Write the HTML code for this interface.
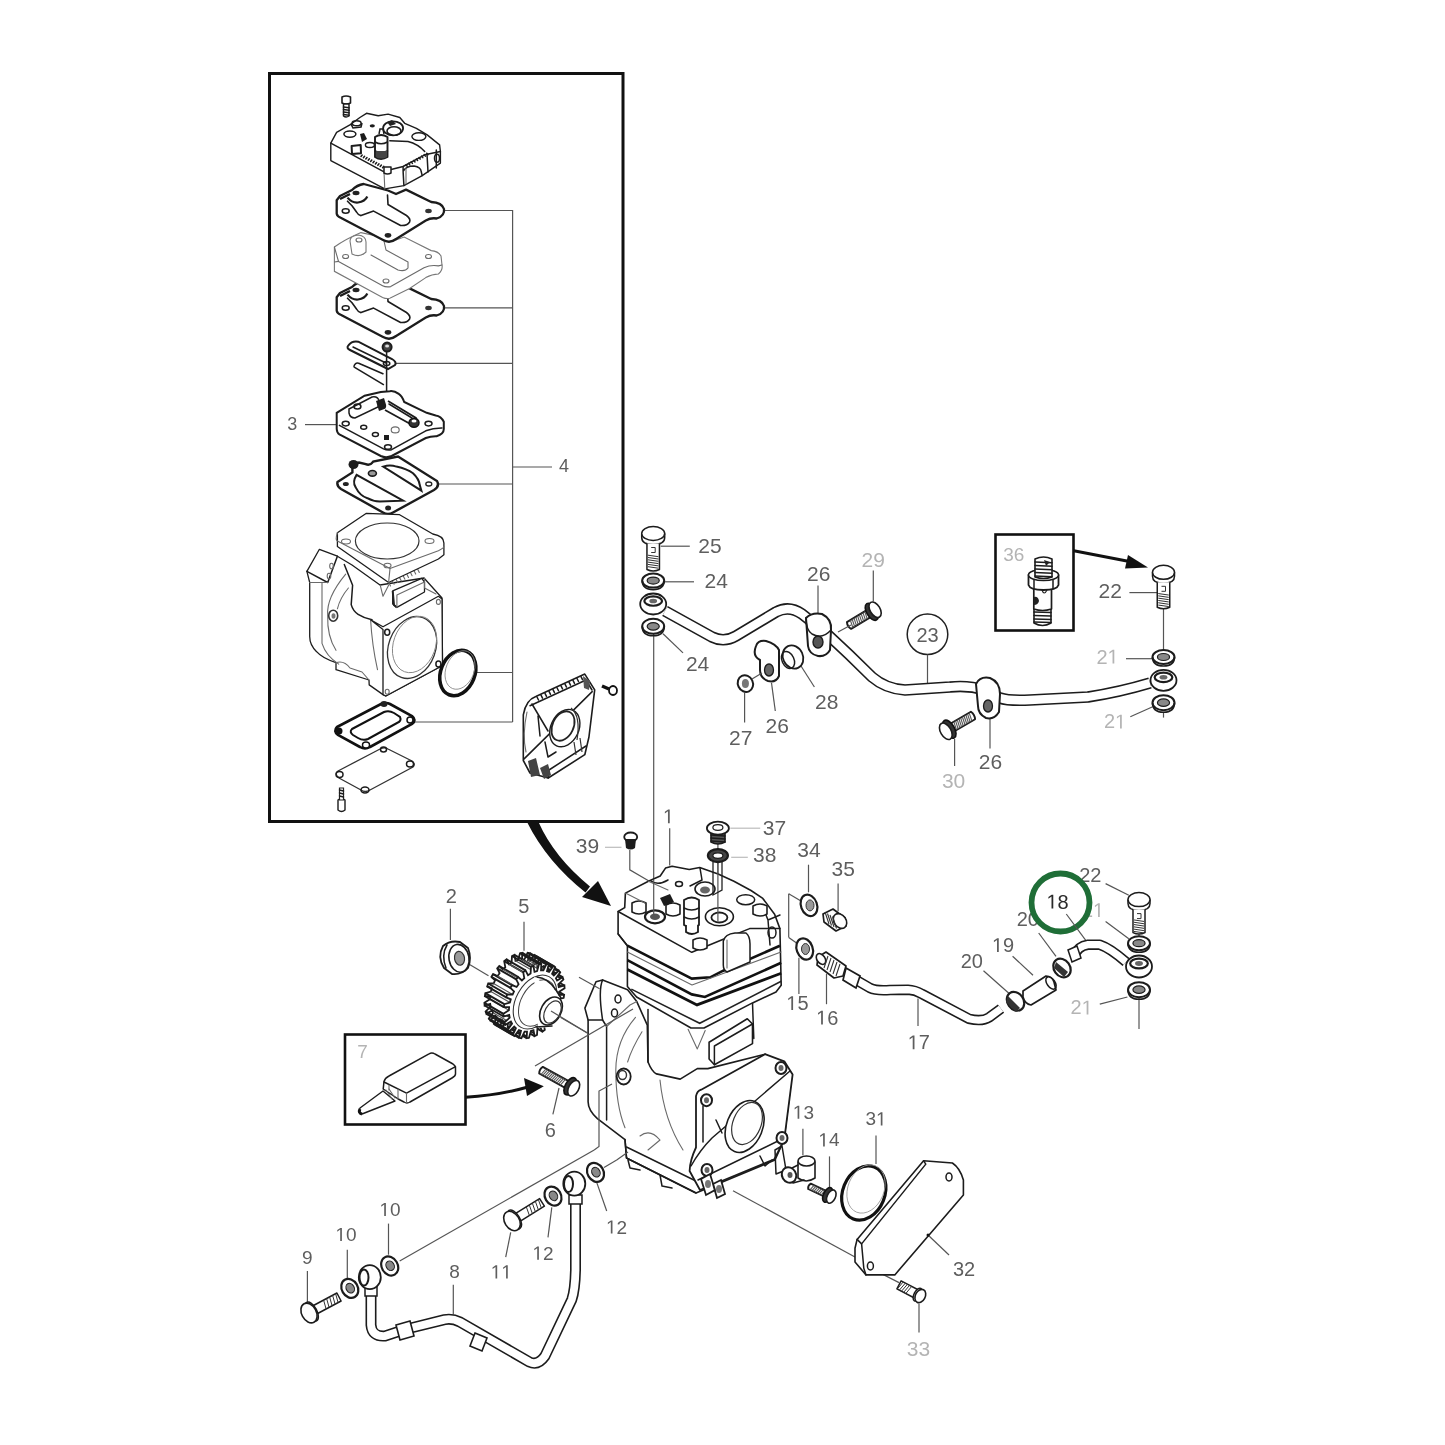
<!DOCTYPE html><html><head><meta charset="utf-8">
<style>
html,body{margin:0;padding:0;background:#fff;}
body{width:1445px;height:1445px;overflow:hidden;position:relative;}
svg{position:absolute;left:0;top:0;will-change:transform;}
.l{fill:none;stroke:#1c1c1c;stroke-width:1.5;stroke-linejoin:round;stroke-linecap:round;}
.t{fill:none;stroke:#1c1c1c;stroke-width:2.4;stroke-linejoin:round;stroke-linecap:round;}
.g{fill:none;stroke:#6a6a6a;stroke-width:1.1;stroke-linejoin:round;stroke-linecap:round;}
.ld{fill:none;stroke:#555;stroke-width:1.2;}
.lg{fill:none;stroke:#bbb;stroke-width:1.2;}
.w{fill:#fff;stroke:#1c1c1c;stroke-width:1.5;stroke-linejoin:round;}
.wt{fill:#fff;stroke:#1c1c1c;stroke-width:2.4;stroke-linejoin:round;}
.k{fill:#1c1c1c;stroke:none;}
text{font-family:"Liberation Sans",sans-serif;fill:#5e5e5e;}
.gt{fill:#b4b4b4;}
</style>
</head><body><svg width="1445" height="1445" viewBox="0 0 1445 1445"><rect x="269.5" y="73.5" width="353.5" height="748" fill="none" stroke="#111" stroke-width="3"/>
<rect x="995.5" y="534.5" width="78" height="96" fill="none" stroke="#111" stroke-width="2.6"/>
<rect x="345" y="1034.5" width="120.5" height="90" fill="none" stroke="#111" stroke-width="2.6"/>
<path class="ld" d="M512.6,210 L512.6,722"/>
<path class="ld" d="M443,210.5 L512.6,210.5"/>
<path class="ld" d="M443,307.8 L512.6,307.8"/>
<path class="ld" d="M395,363.4 L512.6,363.4"/>
<path class="ld" d="M439,484 L512.6,484"/>
<path class="ld" d="M475,672.5 L512.6,672.5"/>
<path class="ld" d="M414.6,722 L512.6,722"/>
<path class="ld" d="M512.6,467 L552,467"/>
<path class="ld" d="M305,424.6 L336.4,424.6"/>
<text x="292.2" y="430" font-size="18" text-anchor="middle">3</text>
<text x="564" y="472" font-size="18" text-anchor="middle">4</text>
<text x="710" y="552.8" font-size="21" text-anchor="middle">25</text>
<text x="716.2" y="588" font-size="21" text-anchor="middle">24</text>
<text x="697.6" y="671" font-size="21" text-anchor="middle">24</text>
<text x="818.8" y="580.6" font-size="21" text-anchor="middle">26</text>
<text x="873.3" y="566.5" font-size="21" text-anchor="middle" class="gt">29</text>
<text x="1013.7" y="560.7" font-size="19" text-anchor="middle" class="gt">36</text>
<text x="1110.3" y="598" font-size="21" text-anchor="middle">22</text>
<text x="1096.38" y="663.6" font-size="20" class="gt">2</text>
<path d="M515,0 L515,1237 L197,1010 L197,1180 L530,1409 L696,1409 L696,0 Z" fill="#b4b4b4" transform="translate(1107.50 663.6) scale(0.00977 -0.00977)"/>
<text x="1103.88" y="728.4" font-size="20" class="gt">2</text>
<path d="M515,0 L515,1237 L197,1010 L197,1180 L530,1409 L696,1409 L696,0 Z" fill="#b4b4b4" transform="translate(1115.00 728.4) scale(0.00977 -0.00977)"/>
<text x="740.8" y="745" font-size="21" text-anchor="middle">27</text>
<text x="777.3" y="732.6" font-size="21" text-anchor="middle">26</text>
<text x="826.8" y="708.5" font-size="21" text-anchor="middle">28</text>
<text x="953.6" y="788.3" font-size="21" text-anchor="middle" class="gt">30</text>
<text x="990.4" y="769" font-size="21" text-anchor="middle">26</text>
<path d="M515,0 L515,1237 L197,1010 L197,1180 L530,1409 L696,1409 L696,0 Z" fill="#5e5e5e" transform="translate(662.94 823.3) scale(0.00977 -0.00977)"/>
<text x="774.4" y="834.9" font-size="21" text-anchor="middle">37</text>
<text x="764.8" y="862.3" font-size="21" text-anchor="middle">38</text>
<text x="587.4" y="853.4" font-size="21" text-anchor="middle">39</text>
<text x="809" y="857.4" font-size="21" text-anchor="middle">34</text>
<text x="843.2" y="876.3" font-size="21" text-anchor="middle">35</text>
<text x="451.2" y="902.7" font-size="20" text-anchor="middle">2</text>
<text x="523.9" y="912.6" font-size="20" text-anchor="middle">5</text>
<text x="1090.3" y="882.2" font-size="20" text-anchor="middle">22</text>
<text x="1027.8" y="925.8" font-size="20" text-anchor="middle">20</text>
<text x="1081.88" y="917" font-size="20" class="gt">2</text>
<path d="M515,0 L515,1237 L197,1010 L197,1180 L530,1409 L696,1409 L696,0 Z" fill="#b4b4b4" transform="translate(1093.00 917) scale(0.00977 -0.00977)"/>
<path d="M515,0 L515,1237 L197,1010 L197,1180 L530,1409 L696,1409 L696,0 Z" fill="#5e5e5e" transform="translate(991.98 952) scale(0.00977 -0.00977)"/>
<text x="1003.10" y="952" font-size="20">9</text>
<text x="971.8" y="968" font-size="20" text-anchor="middle">20</text>
<path d="M515,0 L515,1237 L197,1010 L197,1180 L530,1409 L696,1409 L696,0 Z" fill="#5e5e5e" transform="translate(786.28 1010) scale(0.00977 -0.00977)"/>
<text x="797.40" y="1010" font-size="20">5</text>
<path d="M515,0 L515,1237 L197,1010 L197,1180 L530,1409 L696,1409 L696,0 Z" fill="#5e5e5e" transform="translate(816.08 1024.6) scale(0.00977 -0.00977)"/>
<text x="827.20" y="1024.6" font-size="20">6</text>
<path d="M515,0 L515,1237 L197,1010 L197,1180 L530,1409 L696,1409 L696,0 Z" fill="#5e5e5e" transform="translate(907.68 1049.3) scale(0.00977 -0.00977)"/>
<text x="918.80" y="1049.3" font-size="20">7</text>
<text x="1070.48" y="1014.4" font-size="20" class="gt">2</text>
<path d="M515,0 L515,1237 L197,1010 L197,1180 L530,1409 L696,1409 L696,0 Z" fill="#b4b4b4" transform="translate(1081.60 1014.4) scale(0.00977 -0.00977)"/>
<text x="362.5" y="1058" font-size="19" text-anchor="middle" class="gt">7</text>
<text x="550.4" y="1136.5" font-size="20" text-anchor="middle">6</text>
<path d="M515,0 L515,1237 L197,1010 L197,1180 L530,1409 L696,1409 L696,0 Z" fill="#5e5e5e" transform="translate(792.83 1118.8) scale(0.00928 -0.00928)"/>
<text x="803.40" y="1118.8" font-size="19">3</text>
<path d="M515,0 L515,1237 L197,1010 L197,1180 L530,1409 L696,1409 L696,0 Z" fill="#5e5e5e" transform="translate(818.33 1146.4) scale(0.00928 -0.00928)"/>
<text x="828.90" y="1146.4" font-size="19">4</text>
<text x="865.43" y="1125.4" font-size="19">3</text>
<path d="M515,0 L515,1237 L197,1010 L197,1180 L530,1409 L696,1409 L696,0 Z" fill="#5e5e5e" transform="translate(876.00 1125.4) scale(0.00928 -0.00928)"/>
<path d="M515,0 L515,1237 L197,1010 L197,1180 L530,1409 L696,1409 L696,0 Z" fill="#5e5e5e" transform="translate(379.43 1216) scale(0.00928 -0.00928)"/>
<text x="390.00" y="1216" font-size="19">0</text>
<path d="M515,0 L515,1237 L197,1010 L197,1180 L530,1409 L696,1409 L696,0 Z" fill="#5e5e5e" transform="translate(335.43 1241) scale(0.00928 -0.00928)"/>
<text x="346.00" y="1241" font-size="19">0</text>
<text x="307.4" y="1263.5" font-size="19" text-anchor="middle">9</text>
<text x="454.6" y="1278.4" font-size="19" text-anchor="middle">8</text>
<path d="M515,0 L515,1237 L197,1010 L197,1180 L530,1409 L696,1409 L696,0 Z" fill="#5e5e5e" transform="translate(490.73 1278.4) scale(0.00928 -0.00928)"/>
<path d="M515,0 L515,1237 L197,1010 L197,1180 L530,1409 L696,1409 L696,0 Z" fill="#5e5e5e" transform="translate(501.30 1278.4) scale(0.00928 -0.00928)"/>
<path d="M515,0 L515,1237 L197,1010 L197,1180 L530,1409 L696,1409 L696,0 Z" fill="#5e5e5e" transform="translate(532.43 1259.7) scale(0.00928 -0.00928)"/>
<text x="543.00" y="1259.7" font-size="19">2</text>
<path d="M515,0 L515,1237 L197,1010 L197,1180 L530,1409 L696,1409 L696,0 Z" fill="#5e5e5e" transform="translate(606.03 1233.5) scale(0.00928 -0.00928)"/>
<text x="616.60" y="1233.5" font-size="19">2</text>
<text x="964" y="1276" font-size="20" text-anchor="middle">32</text>
<text x="918.5" y="1355.7" font-size="21" text-anchor="middle" class="gt">33</text>
<circle cx="927.5" cy="634.3" r="20.3" fill="#fff" stroke="#222" stroke-width="1.5"/>
<text x="927.5" y="642" font-size="20" text-anchor="middle">23</text>
<circle cx="1060.5" cy="902.5" r="29" fill="#fff" stroke="#1f6e37" stroke-width="5.8"/>
<path d="M515,0 L515,1237 L197,1010 L197,1180 L530,1409 L696,1409 L696,0 Z" fill="#2a2a2a" transform="translate(1046.48 908.5) scale(0.00977 -0.00977)"/>
<text x="1057.60" y="908.5" font-size="20" style="fill:#2a2a2a">8</text>
<path class="lg" d="M730.3,828.2 L760.2,828.2"/>
<path class="lg" d="M731.2,857.3 L747.8,857.3"/>
<path class="lg" d="M605,847.3 L621.5,847.3"/>
<path class="ld" d="M660.7,546.2 L689.8,546.2"/>
<path class="ld" d="M664.8,581.8 L694,581.8"/>
<path class="ld" d="M663,633.8 L683,652.9"/>
<path class="ld" d="M818,585.6 L818,614.7"/>
<path class="ld" d="M873.3,570.4 L873.3,601.4"/>
<path class="ld" d="M927.5,654.6 L927.5,685.6"/>
<path class="ld" d="M1129.4,592.6 L1157,592.6"/>
<path class="ld" d="M1126,658.7 L1152,658.7"/>
<path class="ld" d="M1130.3,716.8 L1152.7,706.8"/>
<path class="ld" d="M744.6,692.7 L744.6,722.6"/>
<path class="ld" d="M771.5,682.8 L775.3,711"/>
<path class="ld" d="M801,666 L814.4,687"/>
<path class="ld" d="M954.6,739 L954.6,766"/>
<path class="ld" d="M990,717.6 L990,748.6"/>
<path class="ld" d="M669.7,828.2 L669.7,865.6"/>
<path class="ld" d="M629.8,850 L629.8,869.8 L649.8,881.4"/>
<path class="ld" d="M808.5,864.7 L808.5,892.3"/>
<path class="ld" d="M838.1,883.6 L838.1,911.2"/>
<path class="ld" d="M798.9,957.7 L798.9,994"/>
<path class="ld" d="M826.5,973.7 L826.5,1004.2"/>
<path class="ld" d="M918,998.4 L918,1026"/>
<path class="ld" d="M983.5,970.8 L1009.7,994"/>
<path class="ld" d="M1012.6,956.3 L1033,975.2"/>
<path class="ld" d="M1038.7,933 L1056,956.3"/>
<path class="ld" d="M1066.3,914 L1086.7,941.7"/>
<path class="ld" d="M1105.6,883.6 L1128.8,895.2"/>
<path class="ld" d="M1105.6,921.4 L1128.8,938.8"/>
<path class="ld" d="M1099.8,1004.2 L1127.4,997"/>
<path class="ld" d="M1139,998 L1139,1029"/>
<path class="ld" d="M450.4,908.8 L450.4,940"/>
<path class="ld" d="M464.1,961.3 L488.5,975.8"/>
<path class="ld" d="M524,921.7 L524,950.7"/>
<path class="ld" d="M547.9,1010 L587.4,1033"/>
<path class="ld" d="M559,1088 L552.9,1114.4"/>
<path class="ld" d="M802.9,1128.7 L802.9,1155.3"/>
<path class="ld" d="M829.5,1156.4 L829.5,1188.5"/>
<path class="ld" d="M876,1135.4 L876,1164"/>
<path class="ld" d="M928,1235 L949,1255"/>
<path class="ld" d="M919,1303.7 L919,1332.4"/>
<path class="ld" d="M870.4,1268 L899,1282.6"/>
<path class="ld" d="M733,1190.7 L855,1257"/>
<path class="ld" d="M307.4,1271 L307.4,1304.6"/>
<path class="ld" d="M347.3,1249.8 L347.3,1279.7"/>
<path class="ld" d="M388.5,1223.6 L388.5,1254.7"/>
<path class="ld" d="M399.7,1261 L594.2,1150"/>
<path class="ld" d="M453.3,1284.7 L453.3,1314.6"/>
<path class="ld" d="M596.7,1182.4 L606.7,1211"/>
<path class="ld" d="M551.8,1207.4 L548,1237.3"/>
<path class="ld" d="M510.7,1232.3 L505.7,1257.2"/>
<path class="ld" d="M604,1167.5 L616.7,1160"/>
<path class="ld" d="M653.7,634 L653.7,916"/>
<path class="ld" d="M717.9,843 L717.9,921"/>
<path class="ld" d="M1163.5,607 L1163.5,650"/>
<path class="ld" d="M1163.5,712 L1163.5,717.6"/>
<path class="ld" d="M1139,930 L1139,936"/>
<path class="ld" d="M788.7,893.8 L788.7,937.4"/>
<path class="ld" d="M788.7,893.8 L801,901"/>
<path class="ld" d="M788.7,937.4 L798,944"/>
<path d="M665,611 L712,637 Q724,643 736,636 L776,612 Q789,605 802,614 L826,633 Q850,655 872,677 Q886,689 905,690 L950,687 Q968,685 985,690 L1000,698 Q1008,701 1030,700 L1088,697 Q1120,692 1150,683" fill="none" stroke="#1c1c1c" stroke-width="11.5" stroke-linecap="butt" stroke-linejoin="round"/>
<path d="M665,611 L712,637 Q724,643 736,636 L776,612 Q789,605 802,614 L826,633 Q850,655 872,677 Q886,689 905,690 L950,687 Q968,685 985,690 L1000,698 Q1008,701 1030,700 L1088,697 Q1120,692 1150,683" fill="none" stroke="#fff" stroke-width="8.3" stroke-linecap="butt" stroke-linejoin="round"/>
<path d="M641.7,533.5 L641.7,537.5 Q641.7,544.5 653.2,544.5 Q664.7,544.5 664.7,537.5 L664.7,533.5" class="w"/>
<ellipse cx="653.2" cy="533.5" rx="11.5" ry="7" class="w"/>
<path d="M646.95,543.5 L646.95,569.5 Q653.2,572.5 659.45,569.5 L659.45,543.5" class="w"/>
<path d="M647.95,555.2 L658.45,556.7" stroke="#333" stroke-width="1" fill="none"/>
<path d="M647.95,557.5 L658.45,559.0" stroke="#333" stroke-width="1" fill="none"/>
<path d="M647.95,559.8000000000001 L658.45,561.3000000000001" stroke="#333" stroke-width="1" fill="none"/>
<path d="M647.95,562.1 L658.45,563.6" stroke="#333" stroke-width="1" fill="none"/>
<path d="M647.95,564.4000000000001 L658.45,565.9000000000001" stroke="#333" stroke-width="1" fill="none"/>
<path d="M647.95,566.7 L658.45,568.2" stroke="#333" stroke-width="1" fill="none"/>
<path d="M651.2,547.5 L655.2,547.5 L655.2,552.5 L651.2,552.5" stroke="#333" stroke-width="1" fill="none"/>
<g><ellipse cx="653.2" cy="580.6" rx="11" ry="7" fill="#fff" stroke="#1c1c1c" stroke-width="2"/><ellipse cx="653.2" cy="580.6" rx="6.050000000000001" ry="3.5" fill="#888" stroke="#1c1c1c" stroke-width="1.2"/><path d="M642.2,580.6 Q642.2,589.6 653.2,589.6 Q664.2,589.6 664.2,580.6" fill="none" stroke="#1c1c1c" stroke-width="1.6"/></g>
<ellipse cx="653.2" cy="604" rx="13" ry="10.5" class="w" style="stroke-width:1.8"/>
<ellipse cx="653.2" cy="601" rx="8.84" ry="4.7250000000000005" fill="#fff" stroke="#1c1c1c" stroke-width="2.2"/>
<ellipse cx="653.2" cy="601" rx="3.9" ry="2.31" fill="#666"/>
<g><ellipse cx="653.2" cy="626.3" rx="11" ry="7.5" fill="#fff" stroke="#1c1c1c" stroke-width="2"/><ellipse cx="653.2" cy="626.3" rx="6.050000000000001" ry="3.75" fill="#888" stroke="#1c1c1c" stroke-width="1.2"/><path d="M642.2,626.3 Q642.2,635.8 653.2,635.8 Q664.2,635.8 664.2,626.3" fill="none" stroke="#1c1c1c" stroke-width="1.6"/></g>
<path class="w" d="M806,618 Q812,612 822,614 Q832,619 831,630 L830,650 Q826,657 818,656 Q809,654 808,646 Z" style="stroke-width:2"/>
<ellipse cx="818" cy="642" rx="5" ry="6" fill="#555" stroke="#1c1c1c" stroke-width="1.4"/>
<path class="l" d="M806,618 Q806,630 812,634 Q822,640 831,630"/>
<path class="w" d="M756,646 Q758,640 766,641 Q776,644 779,650 L779,676 Q776,683 768,681 Q760,678 760,670 L760,660 Q752,656 756,646 Z" style="stroke-width:2"/>
<ellipse cx="769" cy="670" rx="4.5" ry="6" fill="#666" stroke="#1c1c1c" stroke-width="1.3"/>
<ellipse cx="793" cy="657" rx="10" ry="12" transform="rotate(-25 793 657)" class="w" style="stroke-width:1.8"/>
<ellipse cx="788" cy="660" rx="6" ry="9" transform="rotate(-25 788 660)" class="l"/>
<ellipse cx="745.4" cy="683.6" rx="7.5" ry="8.5" transform="rotate(-25 745.4 683.6)" fill="#fff" stroke="#1c1c1c" stroke-width="2"/>
<ellipse cx="745.4" cy="683.6" rx="3.5" ry="4.5" fill="#777"/>
<path class="ld" d="M752,679 L762,673"/>
<path d="M851.1,628.9 L875.1,614.4 L870.9,607.6 L846.9,622.1 Q847.3,626.5 851.1,628.9 Z" fill="#fff" stroke="#1c1c1c" stroke-width="1.9" stroke-linejoin="round"/>
<path d="M852.9,627.8 L850.3,620.1" stroke="#555" stroke-width="1.1"/>
<path d="M854.7,626.7 L852.1,619.0" stroke="#555" stroke-width="1.1"/>
<path d="M856.5,625.7 L853.9,617.9" stroke="#555" stroke-width="1.1"/>
<path d="M858.3,624.6 L855.7,616.8" stroke="#555" stroke-width="1.1"/>
<path d="M860.1,623.5 L857.5,615.7" stroke="#555" stroke-width="1.1"/>
<path d="M861.9,622.4 L859.3,614.6" stroke="#555" stroke-width="1.1"/>
<path d="M863.7,621.3 L861.1,613.5" stroke="#555" stroke-width="1.1"/>
<path d="M865.5,620.2 L862.9,612.4" stroke="#555" stroke-width="1.1"/>
<path d="M867.3,619.1 L864.7,611.4" stroke="#555" stroke-width="1.1"/>
<ellipse cx="871.7" cy="611.8" rx="5.0" ry="9.5" transform="rotate(-31.1 871.7 611.8)" fill="#333" stroke="#111" stroke-width="1.6"/>
<ellipse cx="875.1" cy="609.7" rx="5.0" ry="8.5" transform="rotate(-31.1 875.1 609.7)" fill="#fff" stroke="#1c1c1c" stroke-width="1.6"/>
<path class="ld" d="M851,625 L838,632"/>
<path d="M970.9,711.8 L945.9,726.3 L950.1,733.7 L975.1,719.2 Q974.7,714.5 970.9,711.8 Z" fill="#fff" stroke="#1c1c1c" stroke-width="1.9" stroke-linejoin="round"/>
<path d="M969.2,712.8 L971.9,721.1" stroke="#555" stroke-width="1.1"/>
<path d="M967.5,713.8 L970.2,722.1" stroke="#555" stroke-width="1.1"/>
<path d="M965.8,714.8 L968.5,723.0" stroke="#555" stroke-width="1.1"/>
<path d="M964.0,715.8 L966.8,724.0" stroke="#555" stroke-width="1.1"/>
<path d="M962.3,716.8 L965.1,725.0" stroke="#555" stroke-width="1.1"/>
<path d="M960.6,717.8 L963.3,726.0" stroke="#555" stroke-width="1.1"/>
<path d="M958.9,718.7 L961.6,727.0" stroke="#555" stroke-width="1.1"/>
<path d="M957.2,719.7 L959.9,728.0" stroke="#555" stroke-width="1.1"/>
<path d="M955.5,720.7 L958.2,729.0" stroke="#555" stroke-width="1.1"/>
<path d="M953.8,721.7 L956.5,730.0" stroke="#555" stroke-width="1.1"/>
<ellipse cx="949.3" cy="729.2" rx="5.2" ry="10.0" transform="rotate(149.9 949.3 729.2)" fill="#333" stroke="#111" stroke-width="1.6"/>
<ellipse cx="945.8" cy="731.3" rx="5.2" ry="9.0" transform="rotate(149.9 945.8 731.3)" fill="#fff" stroke="#1c1c1c" stroke-width="1.6"/>
<path class="w" d="M976,684 Q980,676 990,678 Q1000,682 1000,694 L999,712 Q994,720 986,718 Q978,714 978,706 Z" style="stroke-width:2"/>
<ellipse cx="988" cy="706" rx="4.5" ry="6" fill="#666" stroke="#1c1c1c" stroke-width="1.3"/>
<path d="M1152.5,572.3 L1152.5,576.3 Q1152.5,583.3 1163.5,583.3 Q1174.5,583.3 1174.5,576.3 L1174.5,572.3" class="w"/>
<ellipse cx="1163.5" cy="572.3" rx="11" ry="7" class="w"/>
<path d="M1157.25,582.3 L1157.25,607.3 Q1163.5,610.3 1169.75,607.3 L1169.75,582.3" class="w"/>
<path d="M1158.25,593.55 L1168.75,595.05" stroke="#333" stroke-width="1" fill="none"/>
<path d="M1158.25,595.8499999999999 L1168.75,597.3499999999999" stroke="#333" stroke-width="1" fill="none"/>
<path d="M1158.25,598.15 L1168.75,599.65" stroke="#333" stroke-width="1" fill="none"/>
<path d="M1158.25,600.4499999999999 L1168.75,601.9499999999999" stroke="#333" stroke-width="1" fill="none"/>
<path d="M1158.25,602.75 L1168.75,604.25" stroke="#333" stroke-width="1" fill="none"/>
<path d="M1158.25,605.05 L1168.75,606.55" stroke="#333" stroke-width="1" fill="none"/>
<path d="M1161.5,586.3 L1165.5,586.3 L1165.5,591.3 L1161.5,591.3" stroke="#333" stroke-width="1" fill="none"/>
<g><ellipse cx="1163.5" cy="657" rx="11" ry="7" fill="#fff" stroke="#1c1c1c" stroke-width="2"/><ellipse cx="1163.5" cy="657" rx="6.050000000000001" ry="3.5" fill="#888" stroke="#1c1c1c" stroke-width="1.2"/><path d="M1152.5,657 Q1152.5,666 1163.5,666 Q1174.5,666 1174.5,657" fill="none" stroke="#1c1c1c" stroke-width="1.6"/></g>
<ellipse cx="1163.5" cy="680.3" rx="13" ry="10.5" class="w" style="stroke-width:1.8"/>
<ellipse cx="1163.5" cy="677.3" rx="8.84" ry="4.7250000000000005" fill="#fff" stroke="#1c1c1c" stroke-width="2.2"/>
<ellipse cx="1163.5" cy="677.3" rx="3.9" ry="2.31" fill="#666"/>
<g><ellipse cx="1163.5" cy="702.7" rx="11" ry="7.5" fill="#fff" stroke="#1c1c1c" stroke-width="2"/><ellipse cx="1163.5" cy="702.7" rx="6.050000000000001" ry="3.75" fill="#888" stroke="#1c1c1c" stroke-width="1.2"/><path d="M1152.5,702.7 Q1152.5,712.2 1163.5,712.2 Q1174.5,712.2 1174.5,702.7" fill="none" stroke="#1c1c1c" stroke-width="1.6"/></g>
<path class="w" d="M1034,609 L1034,623 Q1042.5,628 1051,623 L1051,609 Z" style="stroke-width:1.6"/>
<path class="l" d="M1034,612 L1051,612.5"/>
<path class="l" d="M1034,615.5 L1051,616.0"/>
<path class="l" d="M1034,619 L1051,619.5"/>
<path class="l" d="M1034,622 L1051,622.5"/>
<path class="w" d="M1033.8,587 L1033.8,609 Q1042.5,612 1051.5,609 L1051.5,587 Z" style="stroke-width:1.7"/>
<path d="M1034,597 Q1038,596 1039,601 Q1038,605 1034,605 Z" fill="#222"/>
<path d="M1042,590 Q1044,596 1047,590" fill="none" stroke="#222" stroke-width="1.2"/>
<path class="w" d="M1028.5,575 L1028.5,585 Q1030,590 1043.5,590 Q1057,590 1058.5,585 L1058.5,575 Z" style="stroke-width:1.8"/>
<path class="l" d="M1034,579.5 L1034,589 M1053,579.5 L1053,589"/>
<ellipse cx="1043.5" cy="575" rx="15" ry="5.5" fill="#fff" stroke="#1c1c1c" stroke-width="1.6"/>
<path class="w" d="M1035,559 L1035,577 Q1043.5,580 1052,577 L1052,559 Q1043.5,555 1035,559 Z" style="stroke-width:1.6"/>
<path class="l" d="M1035,562 L1052,562.8"/>
<path class="l" d="M1035,565.5 L1052,566.3"/>
<path class="l" d="M1035,569 L1052,569.8"/>
<path class="l" d="M1035,572.5 L1052,573.3"/>
<path class="l" d="M1035,576 L1052,576.8"/>
<path d="M1044,560 L1050,562 L1046,566 Z" fill="#222"/>
<path d="M1073.8,550.7 L1132,562" stroke="#111" stroke-width="3" fill="none"/>
<path d="M1128,555 L1148,567.5 L1125,568.5 Z" fill="#111"/>
<path class="w" d="M342,97 L342,103 Q346,105 350.5,103 L350.5,97 Q346,95 342,97 Z" style="stroke-width:1.6"/>
<path class="w" d="M343.5,104 L343.5,116 Q346,118 349,116 L349,104 Z"/>
<path class="l" d="M343.5,107 L349,107.8"/>
<path class="l" d="M343.5,109.5 L349,110.3"/>
<path class="l" d="M343.5,112 L349,112.8"/>
<path class="l" d="M343.5,114.5 L349,115.3"/>
<g transform="translate(0 97)">
<path d="M336.7,200.2 L336.7,213.7 Q337,216.5 341.2,218 L382.6,239.8 Q389.8,244 396.1,239 L425.8,220.5 Q431,217.5 436.6,218.5 Q445,216 444,209 Q442,202.5 431.2,202 L406,189.6 L396,194 L388,190.5 L363.7,184 Q357,185 352,190 L340,196 Z" fill="#fff" stroke="#1c1c1c" stroke-width="2.3" stroke-linejoin="round"/>
<path d="M387.5,195 L388,204.5 L406.5,215.5 Q411,219 409.6,222 Q407,226 400.6,225.5 L373.6,211.1 L361,215.6 Q358,215 356.5,212 L352,205.7 L347.5,201.2" class="l" style="stroke-width:1.6"/>
<ellipse cx="345.7" cy="211" rx="3.5" ry="2.2" class="l"/><ellipse cx="428.5" cy="211" rx="3.3" ry="2.2" fill="#333"/>
<ellipse cx="388" cy="235.3" rx="3.3" ry="2.4" fill="#222"/>
<path d="M347.5,197.6 Q352,203 358,202.5 Q365,201.5 367.3,196.5" fill="none" stroke="#1c1c1c" stroke-width="2.2"/><ellipse cx="356" cy="193" rx="3.5" ry="2.2" fill="#222"/>
<path d="M340,199 L350,194" stroke="#1c1c1c" stroke-width="2.4"/>
</g>
<path d="M334.4,247 L334.4,271.3 L382.6,297.4 Q386,299 389.8,298.3 L409.6,288.4 L425.8,277.6 Q432,274 438.4,274 Q443,270 442,265 L441,256 Q438,251 431.2,250.6 L404.2,237 L396,240 L361,232.6 Q346,239 334.4,247 Z" fill="#fff" stroke="#777" stroke-width="1.1"/>
<path class="g" d="M334.4,247 L338.5,261.4 L382.6,285.7 Q386,287.5 390.7,286.6 L424,267.7 Q431,264.5 438.4,265.9 L442,265"/>
<path class="g" d="M338.5,261.4 L334.4,262"/>
<path d="M350,241 Q350,236 358,235 Q366,236 366,242 L366,252 Q360,258 352,254 Z" fill="#fff" stroke="#777" stroke-width="1.1"/>
<path class="g" d="M371,255 L398,270 Q405,272 408,268 L408,262 L386,250 L384,241"/>
<ellipse class="g" cx="345.6" cy="256.5" rx="3" ry="2"/>
<ellipse class="g" cx="428.5" cy="256.5" rx="3" ry="2"/>
<ellipse class="g" cx="386" cy="281" rx="3" ry="2"/>
<ellipse class="g" cx="359" cy="240" rx="3" ry="2"/>
<g transform="translate(0 0)">
<path d="M336.7,200.2 L336.7,213.7 Q337,216.5 341.2,218 L382.6,239.8 Q389.8,244 396.1,239 L425.8,220.5 Q431,217.5 436.6,218.5 Q445,216 444,209 Q442,202.5 431.2,202 L406,189.6 L396,194 L388,190.5 L363.7,184 Q357,185 352,190 L340,196 Z" fill="#fff" stroke="#1c1c1c" stroke-width="2.3" stroke-linejoin="round"/>
<path d="M387.5,195 L388,204.5 L406.5,215.5 Q411,219 409.6,222 Q407,226 400.6,225.5 L373.6,211.1 L361,215.6 Q358,215 356.5,212 L352,205.7 L347.5,201.2" class="l" style="stroke-width:1.6"/>
<ellipse cx="345.7" cy="211" rx="3.5" ry="2.2" class="l"/><ellipse cx="428.5" cy="211" rx="3.3" ry="2.2" fill="#333"/>
<ellipse cx="388" cy="235.3" rx="3.3" ry="2.4" fill="#222"/>
<path d="M347.5,197.6 Q352,203 358,202.5 Q365,201.5 367.3,196.5" fill="none" stroke="#1c1c1c" stroke-width="2.2"/><ellipse cx="356" cy="193" rx="3.5" ry="2.2" fill="#222"/>
<path d="M340,199 L350,194" stroke="#1c1c1c" stroke-width="2.4"/>
</g>
<path class="w" d="M330.8,143.2 L336.6,132.4 L349.9,124.9 L359.9,117.5 L366.5,113.3 L378.2,115.8 L388.1,114.1 L399.8,117.5 L404.7,123.3 L416.4,128.3 L427.2,134.9 L439.6,144.9 L440.4,151.5 L440.4,163.1 L422.2,175.6 L403.9,185.6 L384.8,188.9 L330.8,160.6 Z" style="stroke-width:1.4"/>
<path class="l" d="M330.8,143.2 L383.1,171.4 L403.1,166.5 L424.7,154.8 L440.4,151.5"/>
<path class="g" d="M384,172 L384.8,188.9"/>
<path class="l" d="M403.1,166.5 L403.1,171.4 L403.9,185.6 M403.1,171.4 Q406,166 414,166 Q421,167 421.3,172 L422.2,175.6"/>
<path class="g" d="M406,168 L406,184"/>
<path class="l" d="M389.8,140.7 L408,141.5 Q418,144 424.7,151.5"/>
<path class="l" d="M436.3,150 L436.3,168 M427,154 L428,172"/>
<ellipse class="l" cx="437" cy="158.2" rx="2.5" ry="4"/>
<path class="l" d="M361.0,156.5 L362.2,155.0"/>
<path class="l" d="M363.4,157.75 L364.59999999999997,156.25"/>
<path class="l" d="M365.8,159.0 L367.0,157.5"/>
<path class="l" d="M368.2,160.25 L369.4,158.75"/>
<path class="l" d="M370.6,161.5 L371.8,160.0"/>
<path class="l" d="M373.0,162.75 L374.2,161.25"/>
<path class="l" d="M375.4,164.0 L376.59999999999997,162.5"/>
<path class="l" d="M377.8,165.25 L379.0,163.75"/>
<path class="l" d="M380.2,166.5 L381.4,165.0"/>
<path class="l" d="M382.6,167.75 L383.8,166.25"/>
<path class="l" d="M406.0,164.8 L407.2,166.3"/>
<path class="l" d="M408.6,163.35000000000002 L409.8,164.85000000000002"/>
<path class="l" d="M411.2,161.9 L412.4,163.4"/>
<path class="l" d="M413.8,160.45000000000002 L415.0,161.95000000000002"/>
<path class="l" d="M416.4,159.0 L417.59999999999997,160.5"/>
<path class="l" d="M419.0,157.55 L420.2,159.05"/>
<path class="l" d="M421.6,156.10000000000002 L422.8,157.60000000000002"/>
<path class="l" d="M424.2,154.65 L425.4,156.15"/>
<path class="l" d="M426.8,153.20000000000002 L428.0,154.70000000000002"/>
<ellipse cx="393.1" cy="128.3" rx="10" ry="7" fill="#fff" stroke="#1c1c1c" stroke-width="1.8"/><ellipse cx="394" cy="131" rx="7" ry="4.2" fill="#fff" stroke="#1c1c1c" stroke-width="1.6"/>
<path d="M387,122 L392,120 L396,124 L390,126 Z" fill="#222"/>
<ellipse class="l" cx="356.6" cy="123.3" rx="4.5" ry="2.5"/>
<path d="M351,124 L353,128 L361,127 L362,123" fill="none" stroke="#1c1c1c" stroke-width="1.6"/>
<ellipse cx="372.3" cy="125.8" rx="2.6" ry="1.6" fill="#1c1c1c"/>
<ellipse cx="349.9" cy="134.1" rx="6" ry="3.2" fill="#fff" stroke="#1c1c1c" stroke-width="1.5"/>
<path d="M360,134 L364,133 L367,139 L362,142 Z" fill="#1c1c1c"/>
<path class="w" d="M351.6,146 L360.7,145 L361,153.2 L352,154 Z" style="stroke-width:2"/>
<ellipse cx="369.9" cy="145" rx="4.5" ry="2.5" fill="#fff" stroke="#1c1c1c" stroke-width="1.4"/>
<path class="w" d="M375,137 L375,157 Q381,161 387.5,157 L387.5,137 Q381,133 375,137 Z" style="stroke-width:1.9"/>
<path class="l" d="M375,142 Q381,145.5 387.5,142 M375,151 Q381,154 387.5,151"/>
<path d="M376,151 L376,157 Q381,160 387,157 L387,151 Z" fill="#444"/>
<path d="M379,134 L380,129 L383,129 L384,134" fill="none" stroke="#1c1c1c" stroke-width="1.5"/>
<ellipse cx="418.9" cy="136.6" rx="7" ry="3.8" fill="#fff" stroke="#1c1c1c" stroke-width="1.4"/>
<path class="w" d="M384,167 L384,173 Q387.5,175 391,173 L391,167 Z" style="stroke-width:1.5"/>
<path d="M348.4,345.3 Q352,340.5 358.3,341.7 L392,359 Q397,362 395,365 L388,369 L350,350 Q346,348 348.4,345.3 Z" fill="#fff" stroke="#1c1c1c" stroke-width="2"/>
<path class="l" d="M353,347 L386,363"/>
<path d="M353.8,366.9 L383.9,384.9 M358.7,363.3 L383.5,374.1 M353.8,366.9 Q355,362 358.7,363.3" fill="none" stroke="#1c1c1c" stroke-width="1.6"/>
<ellipse cx="387.1" cy="347.1" rx="4.5" ry="4.5" fill="#444" stroke="#1c1c1c" stroke-width="2"/><ellipse cx="387.1" cy="346" rx="2" ry="1.6" fill="#ddd"/>
<path class="l" d="M386.6,352 L386.6,437"/>
<ellipse class="l" cx="386.6" cy="363.4" rx="3.2" ry="2"/>
<path d="M337.5,482 Q336.5,486 341,489 L383,512.5 Q388,515.5 393,512.5 L434,490 Q440,486.5 437,481 L398,456.6 L373.2,461.6 Q370,466 365.7,464.1 L359,462.5 L352.4,464.1 L352.4,472.4 Z" fill="#fff" stroke="#1c1c1c" stroke-width="2.4"/>
<path d="M356.6,474.9 Q352,482 355.7,487.4 Q360,496 367.4,498.2 Q373,501.5 379.8,501.5 L403.1,500.7 Z" fill="none" stroke="#1c1c1c" stroke-width="2"/>
<path d="M383.2,466.6 Q390,464.5 396.4,466.6 Q407,469 413,473.3 Q419,479 419.7,484.9 L421.4,490.7 Z" fill="none" stroke="#1c1c1c" stroke-width="2"/>
<ellipse cx="353.5" cy="464.5" rx="5" ry="4.5" fill="#1c1c1c"/>
<ellipse cx="372.4" cy="473.3" rx="4" ry="2.8" fill="#999" stroke="#1c1c1c" stroke-width="1.6"/>
<ellipse cx="345.8" cy="484" rx="3" ry="2" fill="#222"/><ellipse cx="428.8" cy="484" rx="3" ry="2" fill="#fff" stroke="#222" stroke-width="1.3"/><ellipse cx="388.1" cy="508.1" rx="3" ry="2.5" fill="#222"/>
<path d="M336.7,412.8 L336.7,429 Q337,433 339.4,434.4 L380.8,456 Q386,458.5 391.6,456 L425.8,438 Q431,436 436.6,436.2 Q443.8,434 443.8,429 L443.8,421.8 Q441,416 435.7,415.5 L426.7,412.8 L404.2,402 Q402,396 398.8,393.9 Q394,390.5 389.8,391.2 L380.8,392 L364.6,395.7 Z" fill="#fff" stroke="#1c1c1c" stroke-width="2"/>
<path class="l" d="M339.4,425.4 L383.5,448.8 Q387,450.5 391.6,449.7 L425.8,430.8 Q433,428 442,428.1"/>
<path d="M349,409 L372,397 Q378,396 379,401 L378,407 L355,418 Q350,418 349,413 Z" fill="#fff" stroke="#1c1c1c" stroke-width="1.5"/>
<ellipse class="l" cx="357.4" cy="406.5" rx="3.5" ry="2.5"/>
<path d="M376,401 L384,398 L387,408 L379,411 Z" fill="#1c1c1c"/>
<path d="M388,401 L416,418 Q419,423 414,426 L385,410" fill="#fff" stroke="#1c1c1c" stroke-width="1.8"/>
<path class="l" d="M389,404 L412,418"/>
<ellipse cx="414" cy="422.7" rx="5" ry="4.5" fill="#333" stroke="#111" stroke-width="1.5"/><ellipse cx="414" cy="421" rx="2.5" ry="1.5" fill="#fff"/>
<ellipse class="l" cx="345.7" cy="423.6" rx="3.5" ry="2.3"/>
<ellipse class="l" cx="428.5" cy="423.6" rx="3.5" ry="2.3"/>
<ellipse class="l" cx="388" cy="447" rx="3.5" ry="2.3"/>
<ellipse class="l" cx="363.7" cy="427.2" rx="3" ry="2"/>
<ellipse class="l" cx="375.4" cy="434.4" rx="3" ry="2"/>
<ellipse class="g" cx="395.2" cy="429.9" rx="4" ry="3"/>
<path d="M384,435 L389,435 L389,440 L384,440 Z" fill="#1c1c1c"/>
<path class="w" d="M319.4,549.3 L337.4,556.2 L352,565 L380,585 L424,578 L442,598 L442.5,665.5 L385.8,696 L383,694.6 L369.2,684.9 L369,680 L336,669.7 L336,662.7 Q322,658 316.6,651.7 Q309.7,645 309.7,636.5 L309.7,582.5 L306.9,571.4 Z" style="stroke-width:1.3"/>
<path class="l" d="M306.9,571.4 L327.7,582.5 L337.4,556.2"/>
<path class="g" d="M309.7,582.5 L327.7,582.5"/>
<path class="g" d="M322,582.5 L322,643.4 Q326,656 338.7,664.1"/>
<path class="g" d="M345.7,574.2 Q326,598 327.7,615.7 Q327,636 336,650.3"/>
<path class="g" d="M348.4,588 Q340,598 337.4,608.8"/>
<path class="g" d="M336,662.7 Q344,660 350,668 L362,672 L369,680"/>
<ellipse class="g" cx="331.5" cy="566" rx="1.8" ry="2.8"/>
<ellipse class="g" cx="329" cy="576" rx="1.8" ry="2.8"/>
<ellipse cx="333.2" cy="615.7" rx="4.5" ry="5.5" fill="#fff" stroke="#333" stroke-width="1.6"/><ellipse cx="333.5" cy="616" rx="2" ry="2.8" fill="#777"/>
<path class="l" d="M344.3,564.5 L352.6,585.3 L351.2,604.6 Q353,611 358.1,614.3 Q364,618 372,619.8"/>
<path class="g" d="M370.6,619.8 Q372,645 377.5,669.7"/>
<path class="g" d="M380.3,585.3 L383,596.3 L388.6,585.3"/>
<path class="w" d="M392.7,590.8 L421.8,578.3 L424.5,582 L424.5,592 L396.9,607.4 L392.7,604 Z" style="stroke-width:1.3"/>
<path d="M392.7,591 L394,605 L396.9,607.4" stroke="#222" stroke-width="2" fill="none"/>
<path class="g" d="M396.9,607.4 L396.9,595 L424.5,582"/>
<path class="g" d="M389.0,583.0 L390.5,586.0"/>
<path class="g" d="M392.6,581.3 L394.1,584.3"/>
<path class="g" d="M396.2,579.6 L397.7,582.6"/>
<path class="g" d="M399.8,577.9 L401.3,580.9"/>
<path class="g" d="M403.4,576.2 L404.9,579.2"/>
<path class="g" d="M407.0,574.5 L408.5,577.5"/>
<path class="g" d="M410.6,572.8 L412.1,575.8"/>
<path class="g" d="M414.2,571.1 L415.7,574.1"/>
<path class="g" d="M417.8,569.4 L419.3,572.4"/>
<path class="g" d="M424.5,578 L424.5,588 L436,594"/>
<path class="w" d="M370.6,619.8 L383,626.8 L438.4,596.3 L442,599 L442.5,665.5 L385.8,696 L383,694.6 L383,629.5 Z" style="stroke-width:1.3"/>
<ellipse cx="412.1" cy="647.5" rx="23.5" ry="31.8" transform="rotate(20 412.1 647.5)" fill="none" stroke="#333" stroke-width="1.3"/>
<ellipse cx="414.5" cy="644.5" rx="21" ry="29" transform="rotate(20 414.5 644.5)" fill="none" stroke="#888" stroke-width="0.9"/>
<ellipse class="l" cx="387.2" cy="632.3" rx="2.5" ry="3"/>
<ellipse class="g" cx="438.4" cy="601.9" rx="2" ry="2.5"/>
<ellipse class="l" cx="438.4" cy="664.1" rx="2.5" ry="3"/>
<ellipse class="g" cx="387.2" cy="691.8" rx="2" ry="2.5"/>
<path class="w" d="M337.4,532.7 L366.4,513.3 L399.6,514.7 L432.8,534 Q443.9,536 443.9,543 L443.9,554.8 L438.4,559 L388.6,582.5 L337.4,546.5 Z" style="stroke-width:1.3"/>
<path class="g" d="M337.4,532.7 Q335,540 337.4,541 L390,568.6 L438.4,550.7 Q444,548 443.9,546.5"/>
<path class="g" d="M390,568.6 L388.6,582.5"/>
<ellipse cx="387.2" cy="541" rx="31.8" ry="18" fill="none" stroke="#333" stroke-width="1.2"/>
<ellipse class="g" cx="346" cy="541.5" rx="4.5" ry="2.5"/>
<ellipse class="g" cx="429.5" cy="541" rx="4.5" ry="2.5"/>
<ellipse class="g" cx="387.5" cy="565.5" rx="3.5" ry="2.3"/>
<ellipse cx="457.8" cy="673" rx="17" ry="23.5" transform="rotate(22 457.8 673)" fill="none" stroke="#111" stroke-width="3.6"/>
<ellipse cx="460" cy="670" rx="14" ry="20" transform="rotate(22 460 670)" fill="none" stroke="#888" stroke-width="0.8"/>
<path d="M337,727 L381,704 Q386,702 390,704 L412,716 Q417,720 412,724 L370,747 Q365,750 360,747 L338,735 Q333,731 337,727 Z" fill="#fff" stroke="#111" stroke-width="2.6"/>
<path d="M352,729 L384,712 Q389,710 394,713 L400,717 Q402,721 397,723 L368,739 Q363,741 358,738 L353,735 Q349,732 352,729 Z" fill="none" stroke="#111" stroke-width="2"/>
<ellipse cx="339" cy="731" rx="3.5" ry="3.5" fill="#111"/><ellipse cx="384" cy="704" rx="3.5" ry="3" fill="#222"/><ellipse cx="410" cy="720" rx="3" ry="3" fill="#fff" stroke="#111" stroke-width="1.5"/><ellipse cx="366" cy="745" rx="3.5" ry="3" fill="#fff" stroke="#111" stroke-width="1.5"/>
<path d="M338,771 L381,748.5 Q385,747 388,749 L412,761 Q416,764 413,767 L370,790 Q365,793 361,790 L339,778 Q334,774 338,771 Z" fill="#fff" stroke="#333" stroke-width="1.3"/>
<ellipse class="l" cx="339.5" cy="774.5" rx="3.5" ry="3"/>
<ellipse class="l" cx="383.5" cy="749.5" rx="3" ry="2.5"/>
<ellipse class="l" cx="410" cy="764" rx="3.5" ry="3"/>
<ellipse class="l" cx="365" cy="790" rx="4" ry="3"/>
<path class="w" d="M338,800 L338,810 Q341.5,813 345,810 L345,800 Q341.5,797 338,800 Z" style="stroke-width:1.4"/>
<path d="M339.5,788 L339.5,800 L343.5,800 L343.5,788 Z" fill="#fff" stroke="#222" stroke-width="1.2"/>
<path class="l" d="M339.5,790 L343.5,791"/>
<path class="l" d="M339.5,793 L343.5,794"/>
<path class="l" d="M339.5,796 L343.5,797"/>
<path class="w" d="M584.8,674.1 L594.7,689.9 L588.9,737.3 L584.8,754.7 L548.2,778 L530,773 L523.3,760.5 L523.3,714.8 Q526,700 535.8,696.6 Z" style="stroke-width:1.6"/>
<path class="l" d="M524.1,758.9 L592.2,691.6"/>
<path class="l" d="M530,705.7 L586,680 L592,690"/>
<path class="l" d="M548.2,778 L549,770 L586,746"/>
<path class="g" d="M527,712 Q522,735 526,752"/>
<path class="l" d="M532,704 L548,731 M538,716 L540,736"/>
<ellipse cx="564.8" cy="728.1" rx="14" ry="19.5" transform="rotate(25 564.8 728.1)" fill="#fff" stroke="#1c1c1c" stroke-width="1.4"/>
<ellipse cx="563" cy="726" rx="10.5" ry="15.5" transform="rotate(25 563 726)" fill="none" stroke="#222" stroke-width="1.8"/>
<path d="M571,708 Q581,716 577,740 M574,742 L576,755 M580,738 L582,752" fill="none" stroke="#333" stroke-width="1.2"/>
<path class="l" d="M537.0,697.0 L538.5,700.0"/>
<path class="l" d="M541.0,695.15 L542.5,698.15"/>
<path class="l" d="M545.0,693.3 L546.5,696.3"/>
<path class="l" d="M549.0,691.45 L550.5,694.45"/>
<path class="l" d="M553.0,689.6 L554.5,692.6"/>
<path class="l" d="M557.0,687.75 L558.5,690.75"/>
<path class="l" d="M561.0,685.9 L562.5,688.9"/>
<path class="l" d="M565.0,684.05 L566.5,687.05"/>
<path class="l" d="M569.0,682.2 L570.5,685.2"/>
<path class="l" d="M573.0,680.35 L574.5,683.35"/>
<path class="l" d="M577.0,678.5 L578.5,681.5"/>
<path class="l" d="M581.0,676.65 L582.5,679.65"/>
<path d="M528,761 L536,758 L540,775 L531,777 Z M540,768 L548,764 L551,775 L544,779 Z" fill="#444"/>
<path d="M583,676 L590,681 L589,690 L584,688 Z" fill="#555"/>
<path class="l" d="M545,742 L548,757 L556,752"/>
<ellipse cx="613" cy="690.5" rx="4" ry="4.5" fill="#fff" stroke="#111" stroke-width="1.8"/>
<path d="M602,686 L609,689" stroke="#111" stroke-width="3.5"/>
<path d="M527,822 L538.5,822 Q554,857 590,886.5 L585.5,892.5 Q547,862 527,822 Z" fill="#111"/>
<path d="M582,897 L598,881 L611,906 Z" fill="#111"/>
<path class="w" d="M596,981.8 L602.6,979.9 L627.6,989.7 L636.8,1001.6 L647.3,1025.2 L648,1062 Q652,1072 656.5,1073.9 L680.2,1079.1 L697.3,1068.6 L707.8,1068.6 L765,1054.2 L792,1074 L784,1140 L775,1160 L696,1193 L626.5,1158 L625,1139.6 L597.4,1118.6 Q588,1110 588.1,1101.5 L588.1,1020 L584.9,1008.1 Z" style="stroke-width:1.6"/>
<path class="l" d="M602.6,979.9 Q598,990 602.6,1020 L606.6,1026.5 L606.6,1120"/>
<path class="l" d="M588.1,1020 L602.6,1020"/>
<path class="g" d="M606.6,1026.5 L630,1005 L636.8,1001.6"/>
<path class="g" d="M635.5,1017.3 Q616,1040 615.8,1070 Q615.8,1105 625,1127.8"/>
<path class="g" d="M642,1031.8 Q632,1048 627.6,1062"/>
<path class="g" d="M660,1080 Q664,1120 683,1150"/>
<ellipse class="l" cx="618" cy="999" rx="3" ry="4"/>
<ellipse class="l" cx="614.5" cy="1013" rx="3" ry="4"/>
<ellipse cx="623.7" cy="1076.5" rx="7" ry="8" fill="#fff" stroke="#1c1c1c" stroke-width="1.8"/><ellipse cx="622.5" cy="1075" rx="4" ry="4.5" fill="#fff" stroke="#333" stroke-width="1.4"/>
<path class="l" d="M625,1139.6 L626.5,1158 L696,1193"/>
<path class="l" d="M626.5,1147 L700,1183"/>
<path class="l" d="M628,1160 L630,1168 L640,1170 M660,1175 L662,1186 L672,1188"/>
<path class="g" d="M640,1136 Q650,1128 660,1140 L648,1150"/>
<path class="l" d="M648,1009.4 L648,1062"/>
<path d="M648,1062" />
<path class="l" d="M752.5,1002.9 L753.8,1038.4"/>
<path class="g" d="M688.1,1029.2 L697.3,1048.9 L705.2,1030.5"/>
<path class="w" d="M709.1,1042.3 L747.3,1018.7 L752.5,1024 L752.5,1043.6 L714.4,1064.7 L709.1,1059 Z" style="stroke-width:1.6"/>
<path class="l" d="M714.4,1064.7 L714.4,1046 L752.5,1024"/>
<path class="w" d="M618.1,911.5 L624.7,907.6 L625.4,893.1 L648.4,881.3 L660.2,876 L665.5,868.1 L672.1,866.2 L689.2,869.5 L699.7,867.5 L718.1,874.1 L733.9,881.3 L751,890.5 L762.8,898.4 L774.6,914.2 L779.9,928.6 L781.2,985.2 L776,992 L752.5,1002.9 L704,1028 L691,1028 L636.6,997 L627.4,986.5 L627.4,945.7 L618.1,933.9 Z" style="stroke-width:1.6"/>
<path class="l" d="M618.1,911.5 L691.8,952.3 L723.3,939.2 L749.6,928.6 L779.9,928.6"/>
<path class="l" d="M618.1,933.9 L627.4,945.7"/>
<path d="M627.4,945.7 L691.8,978.6 L710.2,977.3 L723.3,970.7 L779.9,945.7" fill="none" stroke="#111" stroke-width="2.6"/>
<path d="M627.4,960.2 L691.8,994.4 L704.9,997 L781.2,962.8" fill="none" stroke="#111" stroke-width="2.6"/>
<path d="M627.4,969.4 L697,1004.9 L781.2,973.3" fill="none" stroke="#111" stroke-width="2.8"/>
<path d="M631.3,989.1 L699.7,1023.3 L781.2,981.2" fill="none" stroke="#222" stroke-width="1.6"/>
<path class="g" d="M627.4,952 L692,985 L781,952"/>
<path class="w" d="M723.3,941 Q725,934 735,933 L746,933 Q750,936 750,944 L750,962 L727,972 Q723.3,970 723.3,965 Z" style="stroke-width:1.5"/>
<path class="g" d="M727,940 L727,968"/>
<path class="l" d="M762,905 L768,920 L770,945 M768,920 L780,915"/>
<ellipse class="l" cx="772" cy="932.6" rx="4" ry="5.5"/>
<ellipse cx="655" cy="916.8" rx="10" ry="6.5" fill="#fff" stroke="#1c1c1c" stroke-width="2.2"/><ellipse cx="655" cy="916.8" rx="5" ry="3.2" fill="#555"/>
<path class="w" d="M632,903 L632,912 Q639,916 646,912 L646,903 Q639,899 632,903 Z" style="stroke-width:1.6"/>
<path class="w" d="M666,905 L666,914 Q673,918 680,914 L680,905 Q673,901 666,905 Z" style="stroke-width:1.6"/>
<path class="w" d="M693,940 L693,948 Q700,952 707,948 L707,940 Q700,936 693,940 Z" style="stroke-width:1.6"/>
<path class="w" d="M753,906 L753,914 Q760,918 767,914 L767,906 Q760,902 753,906 Z" style="stroke-width:1.6"/>
<path class="w" d="M684,900 L684,925 Q691.8,930 699,925 L699,900 Q691.8,895 684,900 Z" style="stroke-width:1.8"/>
<path class="l" d="M684,908 Q691.8,912 699,908 M684,917 Q691.8,921 699,917"/>
<path d="M686,925 L686,932 Q691.8,936 698,932 L698,925" fill="#fff" stroke="#1c1c1c" stroke-width="1.8"/>
<ellipse cx="719.4" cy="916.8" rx="14" ry="9" fill="#fff" stroke="#1c1c1c" stroke-width="1.6"/><ellipse cx="719.4" cy="917.5" rx="8" ry="5" fill="#fff" stroke="#1c1c1c" stroke-width="1.8"/>
<ellipse cx="745.7" cy="899.7" rx="9" ry="5" fill="#fff" stroke="#1c1c1c" stroke-width="1.5"/>
<path d="M660,898 L670,894 L674,902 L664,906 Z" fill="#1c1c1c"/>
<ellipse class="l" cx="679" cy="884" rx="3.5" ry="2.5"/>
<ellipse cx="705" cy="889" rx="10" ry="7" fill="none" stroke="#1c1c1c" stroke-width="1.6"/><ellipse cx="705" cy="890" rx="5" ry="3.5" fill="#666"/>
<path class="g" d="M625.4,893.1 L645,903 M648.4,881.3 L668,890"/>
<path class="l" d="M700,868 L702,880 L690,886"/>
<path class="l" d="M651,881 Q658,886 668,880"/>
<path class="ld" d="M653.7,880 L653.7,918"/>
<path class="ld" d="M717.9,860 L717.9,921"/>
<ellipse cx="630.7" cy="837" rx="6.5" ry="4.5" fill="#fff" stroke="#1c1c1c" stroke-width="1.8"/>
<path d="M625,839 L626,848 Q630.7,851 635,848 L636,839 Z" fill="#1c1c1c"/>
<path d="M711,832 L711,842 Q718,846 725,842 L725,832 Z" fill="#555" stroke="#1c1c1c" stroke-width="1.6"/>
<path class="l" d="M711,835 L725,836"/>
<path class="l" d="M711,838 L725,839"/>
<path class="l" d="M711,841 L725,842"/>
<ellipse cx="717.9" cy="828.2" rx="11" ry="6.5" fill="#fff" stroke="#1c1c1c" stroke-width="1.8"/><ellipse cx="717.9" cy="827.5" rx="5" ry="2.8" fill="none" stroke="#1c1c1c" stroke-width="1.2"/>
<ellipse cx="717.9" cy="855.6" rx="10" ry="6.5" fill="#444" stroke="#1c1c1c" stroke-width="2.2"/><ellipse cx="717.9" cy="855.6" rx="5" ry="2.8" fill="#fff" stroke="#1c1c1c" stroke-width="1.2"/>
<path d="M713,862 L713,895 L722,890 L722,862" fill="none" stroke="#222" stroke-width="1.3"/>
<path class="w" d="M701.2,1089.7 L765,1054.2 L784.3,1061.3 L792.6,1074.6 L784.3,1139.4 L774.3,1159.3 L700,1190 L689.6,1171 Q690,1160 696,1147.5 L696,1096.2 Q697,1091 701.2,1089.7 Z" style="stroke-width:1.8"/>
<path class="l" d="M691,1166 Q700,1150 712,1138 L790,1071"/>
<path class="l" d="M703,1106 L703,1142 M698,1180 L780,1140"/>
<ellipse cx="744.6" cy="1126.5" rx="18" ry="27" transform="rotate(22 744.6 1126.5)" fill="#fff" stroke="#1c1c1c" stroke-width="1.6"/>
<ellipse cx="747" cy="1123.5" rx="14" ry="22" transform="rotate(22 747 1123.5)" fill="none" stroke="#333" stroke-width="1.2"/>
<ellipse cx="706.5" cy="1100.2" rx="5.5" ry="6" fill="#fff" stroke="#1c1c1c" stroke-width="2"/><ellipse cx="706.5" cy="1100.2" rx="2.5" ry="3" fill="#666"/>
<ellipse cx="781" cy="1068" rx="5.5" ry="6" fill="#fff" stroke="#1c1c1c" stroke-width="2"/><ellipse cx="781" cy="1068" rx="2.5" ry="3" fill="#666"/>
<ellipse cx="782" cy="1138" rx="5.5" ry="6" fill="#fff" stroke="#1c1c1c" stroke-width="2"/><ellipse cx="782" cy="1138" rx="2.5" ry="3" fill="#666"/>
<ellipse cx="707" cy="1170" rx="5.5" ry="6" fill="#fff" stroke="#1c1c1c" stroke-width="2"/><ellipse cx="707" cy="1170" rx="2.5" ry="3" fill="#666"/>
<path class="l" d="M716,1120 L722,1133 M760,1156 L765,1166 L772,1160"/>
<path d="M701,1179 L710,1174 L715,1190 L706,1195 Z M713,1184 L721,1180 L725,1194 L717,1198 Z" fill="#fff" stroke="#1c1c1c" stroke-width="1.8"/>
<ellipse cx="708" cy="1184" rx="3" ry="4" fill="#777"/><ellipse cx="719" cy="1189" rx="3" ry="4" fill="#777"/>
<path class="l" d="M775,1150 L782,1146 L786,1170 L776,1174 Z"/>
<path class="ld" d="M579,977.3 L599.6,988.7"/>
<path class="ld" d="M535,1066 L633,1009"/>
<path class="ld" d="M594.2,1150 L599,1146.5 L599,1091 L612,1084"/>
<path class="ld" d="M616.7,1160 L628,1152"/>
<path class="w" d="M443,946 Q450,940 460,942 L468,948 Q472,958 468,968 Q462,975 452,974 L444,968 Q437,957 443,946 Z" style="stroke-width:1.8"/>
<ellipse cx="459" cy="958.3" rx="10" ry="14" transform="rotate(-10 459 958.3)" fill="#fff" stroke="#1c1c1c" stroke-width="1.6"/>
<ellipse cx="459.5" cy="958.3" rx="5" ry="7" transform="rotate(-10 459.5 958.3)" fill="#999" stroke="#333" stroke-width="1.2"/>
<path class="l" d="M447,945 Q441,955 446,968"/>
<path d="M538.6,1003.1 L537.0,1005.8 L532.4,1004.0 L530.4,1006.8 L532.8,1011.7 L530.8,1014.0 L527.1,1010.6 L524.7,1012.9 L525.8,1018.8 L523.5,1020.6 L521.0,1015.8 L518.4,1017.4 L518.0,1024.0 L515.6,1025.1 L514.5,1019.2 L511.9,1020.0 L510.0,1026.8 L507.7,1027.2 L508.0,1020.6 L505.6,1020.6 L502.4,1027.2 L500.2,1026.8 L502.0,1019.9 L499.9,1019.1 L495.6,1025.0 L493.8,1023.8 L496.9,1017.2 L495.2,1015.6 L490.2,1020.4 L488.8,1018.6 L493.1,1012.7 L491.9,1010.4 L486.4,1013.8 L485.6,1011.4 L490.7,1006.6 L490.2,1003.8 L484.6,1005.5 L484.4,1002.8 L489.9,999.3 L490.1,996.2 L484.9,996.2 L485.3,993.2 L490.9,991.5 L491.8,988.3 L487.2,986.4 L488.2,983.5 L493.6,983.5 L495.0,980.4 L491.4,976.9 L493.0,974.2 L497.6,976.0 L499.6,973.2 L497.2,968.3 L499.2,966.0 L502.9,969.4 L505.3,967.1 L504.2,961.2 L506.5,959.4 L509.0,964.2 L511.6,962.6 L512.0,956.0 L514.4,954.9 L515.5,960.8 L518.1,960.0 L520.0,953.2 L522.3,952.8 L522.0,959.4 L524.4,959.4 L527.6,952.8 L529.8,953.2 L528.0,960.1 L530.1,960.9 L534.4,955.0 L536.2,956.2 L533.1,962.8 L534.8,964.4 L539.8,959.6 L541.2,961.4 L536.9,967.3 L538.1,969.6 L543.6,966.2 L544.4,968.6 L539.3,973.4 L539.8,976.2 L545.4,974.5 L545.6,977.2 L540.1,980.7 L539.9,983.8 L545.1,983.8 L544.7,986.8 L539.1,988.5 L538.2,991.7 L542.8,993.6 L541.8,996.5 L536.4,996.5 L535.0,999.6 Z" fill="#fff" stroke="#1c1c1c" stroke-width="1.8"/>
<path d="M538.6,1003.1 L557.6,1014.1" stroke="#1c1c1c" stroke-width="2"/>
<path d="M537.0,1005.8 L556.0,1016.8" stroke="#1c1c1c" stroke-width="2"/>
<path d="M532.4,1004.0 L551.4,1015.0" stroke="#555" stroke-width="1.2"/>
<path d="M532.8,1011.7 L551.8,1022.7" stroke="#1c1c1c" stroke-width="2"/>
<path d="M530.8,1014.0 L549.8,1025.0" stroke="#1c1c1c" stroke-width="2"/>
<path d="M527.1,1010.6 L546.1,1021.6" stroke="#555" stroke-width="1.2"/>
<path d="M525.8,1018.8 L544.8,1029.8" stroke="#1c1c1c" stroke-width="2"/>
<path d="M523.5,1020.6 L542.5,1031.6" stroke="#1c1c1c" stroke-width="2"/>
<path d="M521.0,1015.8 L540.0,1026.8" stroke="#555" stroke-width="1.2"/>
<path d="M518.0,1024.0 L537.0,1035.0" stroke="#1c1c1c" stroke-width="2"/>
<path d="M515.6,1025.1 L534.6,1036.1" stroke="#1c1c1c" stroke-width="2"/>
<path d="M514.5,1019.2 L533.5,1030.2" stroke="#555" stroke-width="1.2"/>
<path d="M510.0,1026.8 L529.0,1037.8" stroke="#1c1c1c" stroke-width="2"/>
<path d="M507.7,1027.2 L526.7,1038.2" stroke="#1c1c1c" stroke-width="2"/>
<path d="M508.0,1020.6 L527.0,1031.6" stroke="#555" stroke-width="1.2"/>
<path d="M502.4,1027.2 L521.4,1038.2" stroke="#1c1c1c" stroke-width="2"/>
<path d="M500.2,1026.8 L519.2,1037.8" stroke="#1c1c1c" stroke-width="2"/>
<path d="M502.0,1019.9 L521.0,1030.9" stroke="#555" stroke-width="1.2"/>
<path d="M495.6,1025.0 L514.6,1036.0" stroke="#1c1c1c" stroke-width="2"/>
<path d="M493.8,1023.8 L512.8,1034.8" stroke="#1c1c1c" stroke-width="2"/>
<path d="M496.9,1017.2 L515.9,1028.2" stroke="#555" stroke-width="1.2"/>
<path d="M490.2,1020.4 L509.2,1031.4" stroke="#1c1c1c" stroke-width="2"/>
<path d="M488.8,1018.6 L507.8,1029.6" stroke="#1c1c1c" stroke-width="2"/>
<path d="M493.1,1012.7 L512.1,1023.7" stroke="#555" stroke-width="1.2"/>
<path d="M486.4,1013.8 L505.4,1024.8" stroke="#1c1c1c" stroke-width="2"/>
<path d="M485.6,1011.4 L504.6,1022.4" stroke="#1c1c1c" stroke-width="2"/>
<path d="M490.7,1006.6 L509.7,1017.6" stroke="#555" stroke-width="1.2"/>
<path d="M484.6,1005.5 L503.6,1016.5" stroke="#1c1c1c" stroke-width="2"/>
<path d="M484.4,1002.8 L503.4,1013.8" stroke="#1c1c1c" stroke-width="2"/>
<path d="M489.9,999.3 L508.9,1010.3" stroke="#555" stroke-width="1.2"/>
<path d="M484.9,996.2 L503.9,1007.2" stroke="#1c1c1c" stroke-width="2"/>
<path d="M485.3,993.2 L504.3,1004.2" stroke="#1c1c1c" stroke-width="2"/>
<path d="M490.9,991.5 L509.9,1002.5" stroke="#555" stroke-width="1.2"/>
<path d="M487.2,986.4 L506.2,997.4" stroke="#1c1c1c" stroke-width="2"/>
<path d="M488.2,983.5 L507.2,994.5" stroke="#1c1c1c" stroke-width="2"/>
<path d="M493.6,983.5 L512.6,994.5" stroke="#555" stroke-width="1.2"/>
<path d="M491.4,976.9 L510.4,987.9" stroke="#1c1c1c" stroke-width="2"/>
<path d="M493.0,974.2 L512.0,985.2" stroke="#1c1c1c" stroke-width="2"/>
<path d="M497.6,976.0 L516.6,987.0" stroke="#555" stroke-width="1.2"/>
<path d="M497.2,968.3 L516.2,979.3" stroke="#1c1c1c" stroke-width="2"/>
<path d="M499.2,966.0 L518.2,977.0" stroke="#1c1c1c" stroke-width="2"/>
<path d="M502.9,969.4 L521.9,980.4" stroke="#555" stroke-width="1.2"/>
<path d="M504.2,961.2 L523.2,972.2" stroke="#1c1c1c" stroke-width="2"/>
<path d="M506.5,959.4 L525.5,970.4" stroke="#1c1c1c" stroke-width="2"/>
<path d="M509.0,964.2 L528.0,975.2" stroke="#555" stroke-width="1.2"/>
<path d="M512.0,956.0 L531.0,967.0" stroke="#1c1c1c" stroke-width="2"/>
<path d="M514.4,954.9 L533.4,965.9" stroke="#1c1c1c" stroke-width="2"/>
<path d="M515.5,960.8 L534.5,971.8" stroke="#555" stroke-width="1.2"/>
<path d="M520.0,953.2 L539.0,964.2" stroke="#1c1c1c" stroke-width="2"/>
<path d="M522.3,952.8 L541.3,963.8" stroke="#1c1c1c" stroke-width="2"/>
<path d="M522.0,959.4 L541.0,970.4" stroke="#555" stroke-width="1.2"/>
<path d="M527.6,952.8 L546.6,963.8" stroke="#1c1c1c" stroke-width="2"/>
<path d="M529.8,953.2 L548.8,964.2" stroke="#1c1c1c" stroke-width="2"/>
<path d="M528.0,960.1 L547.0,971.1" stroke="#555" stroke-width="1.2"/>
<path d="M534.4,955.0 L553.4,966.0" stroke="#1c1c1c" stroke-width="2"/>
<path d="M536.2,956.2 L555.2,967.2" stroke="#1c1c1c" stroke-width="2"/>
<path d="M533.1,962.8 L552.1,973.8" stroke="#555" stroke-width="1.2"/>
<path d="M539.8,959.6 L558.8,970.6" stroke="#1c1c1c" stroke-width="2"/>
<path d="M541.2,961.4 L560.2,972.4" stroke="#1c1c1c" stroke-width="2"/>
<path d="M536.9,967.3 L555.9,978.3" stroke="#555" stroke-width="1.2"/>
<path d="M543.6,966.2 L562.6,977.2" stroke="#1c1c1c" stroke-width="2"/>
<path d="M544.4,968.6 L563.4,979.6" stroke="#1c1c1c" stroke-width="2"/>
<path d="M539.3,973.4 L558.3,984.4" stroke="#555" stroke-width="1.2"/>
<path d="M545.4,974.5 L564.4,985.5" stroke="#1c1c1c" stroke-width="2"/>
<path d="M545.6,977.2 L564.6,988.2" stroke="#1c1c1c" stroke-width="2"/>
<path d="M540.1,980.7 L559.1,991.7" stroke="#555" stroke-width="1.2"/>
<path d="M545.1,983.8 L564.1,994.8" stroke="#1c1c1c" stroke-width="2"/>
<path d="M544.7,986.8 L563.7,997.8" stroke="#1c1c1c" stroke-width="2"/>
<path d="M539.1,988.5 L558.1,999.5" stroke="#555" stroke-width="1.2"/>
<path d="M542.8,993.6 L561.8,1004.6" stroke="#1c1c1c" stroke-width="2"/>
<path d="M541.8,996.5 L560.8,1007.5" stroke="#1c1c1c" stroke-width="2"/>
<path d="M536.4,996.5 L555.4,1007.5" stroke="#555" stroke-width="1.2"/>
<path d="M557.6,1014.1 L556.0,1016.8 L551.4,1015.0 L549.4,1017.8 L551.8,1022.7 L549.8,1025.0 L546.1,1021.6 L543.7,1023.9 L544.8,1029.8 L542.5,1031.6 L540.0,1026.8 L537.4,1028.4 L537.0,1035.0 L534.6,1036.1 L533.5,1030.2 L530.9,1031.0 L529.0,1037.8 L526.7,1038.2 L527.0,1031.6 L524.6,1031.6 L521.4,1038.2 L519.2,1037.8 L521.0,1030.9 L518.9,1030.1 L514.6,1036.0 L512.8,1034.8 L515.9,1028.2 L514.2,1026.6 L509.2,1031.4 L507.8,1029.6 L512.1,1023.7 L510.9,1021.4 L505.4,1024.8 L504.6,1022.4 L509.7,1017.6 L509.2,1014.8 L503.6,1016.5 L503.4,1013.8 L508.9,1010.3 L509.1,1007.2 L503.9,1007.2 L504.3,1004.2 L509.9,1002.5 L510.8,999.3 L506.2,997.4 L507.2,994.5 L512.6,994.5 L514.0,991.4 L510.4,987.9 L512.0,985.2 L516.6,987.0 L518.6,984.2 L516.2,979.3 L518.2,977.0 L521.9,980.4 L524.3,978.1 L523.2,972.2 L525.5,970.4 L528.0,975.2 L530.6,973.6 L531.0,967.0 L533.4,965.9 L534.5,971.8 L537.1,971.0 L539.0,964.2 L541.3,963.8 L541.0,970.4 L543.4,970.4 L546.6,963.8 L548.8,964.2 L547.0,971.1 L549.1,971.9 L553.4,966.0 L555.2,967.2 L552.1,973.8 L553.8,975.4 L558.8,970.6 L560.2,972.4 L555.9,978.3 L557.1,980.6 L562.6,977.2 L563.4,979.6 L558.3,984.4 L558.8,987.2 L564.4,985.5 L564.6,988.2 L559.1,991.7 L558.9,994.8 L564.1,994.8 L563.7,997.8 L558.1,999.5 L557.2,1002.7 L561.8,1004.6 L560.8,1007.5 L555.4,1007.5 L554.0,1010.6 Z" fill="#fff" stroke="#1c1c1c" stroke-width="1.8"/>
<ellipse cx="535" cy="1002" rx="19" ry="29" transform="rotate(29 535 1002)" fill="#fff" stroke="#333" stroke-width="1.1"/>
<ellipse cx="537" cy="1003" rx="16" ry="25" transform="rotate(29 537 1003)" fill="#fff" stroke="#444" stroke-width="1"/>
<path d="M534,977 L556,991 Q566,1006 558,1026 L538,1028 Z" fill="#fff" stroke="none"/>
<path class="l" d="M537,977 Q548,978 556,990 L561,998 M536,1027 L552,1026"/>
<ellipse cx="551" cy="1011" rx="10" ry="15" transform="rotate(29 551 1011)" fill="#fff" stroke="#1c1c1c" stroke-width="1.6"/>
<ellipse cx="552.5" cy="1012" rx="7.5" ry="12" transform="rotate(29 552.5 1012)" fill="none" stroke="#333" stroke-width="1.2"/>
<path class="ld" d="M551,1011 L587.4,1033"/>
<path class="w" d="M384,1081.5 Q385,1078 389,1076 L429,1053.8 Q432,1052 435,1054 L453,1064 Q456,1066 455.5,1069 L455.5,1074 Q455.5,1076 452,1078 L410,1102 Q407,1104 404,1102 L398.2,1099 L383.2,1089 Z" style="stroke-width:1.5"/>
<path class="l" d="M384,1082 L406.5,1093.1 L455.5,1066.6"/>
<path class="g" d="M406.5,1093.1 L406.5,1103"/>
<path class="g" d="M389,1085 L389,1090 M398,1089 L398,1099"/>
<path class="w" d="M383,1091 L360,1108 Q358,1113 362,1114 L395,1101 Z" style="stroke-width:1.4"/>
<path d="M360,1109 Q358,1113 362,1114" stroke="#111" stroke-width="3" fill="none"/>
<path class="g" d="M386,1090 L392,1099 M389,1089 L395,1098"/>
<path d="M465.5,1097.3 Q500,1095 528,1087" fill="none" stroke="#111" stroke-width="3"/>
<path d="M524,1078 L543.8,1086.3 L527,1096 Z" fill="#111"/>
<path d="M539.2,1073.5 L569.7,1090.3 L573.3,1083.7 L542.8,1066.9 Q539.2,1069.2 539.2,1073.5 Z" fill="#fff" stroke="#1c1c1c" stroke-width="1.9" stroke-linejoin="round"/>
<path d="M541.0,1074.5 L546.1,1068.8" stroke="#555" stroke-width="1.1"/>
<path d="M542.7,1075.4 L547.9,1069.7" stroke="#555" stroke-width="1.1"/>
<path d="M544.5,1076.4 L549.7,1070.7" stroke="#555" stroke-width="1.1"/>
<path d="M546.2,1077.4 L551.4,1071.7" stroke="#555" stroke-width="1.1"/>
<path d="M548.0,1078.3 L553.2,1072.6" stroke="#555" stroke-width="1.1"/>
<path d="M549.7,1079.3 L554.9,1073.6" stroke="#555" stroke-width="1.1"/>
<path d="M551.5,1080.3 L556.7,1074.6" stroke="#555" stroke-width="1.1"/>
<path d="M553.3,1081.2 L558.5,1075.5" stroke="#555" stroke-width="1.1"/>
<path d="M555.0,1082.2 L560.2,1076.5" stroke="#555" stroke-width="1.1"/>
<path d="M556.8,1083.2 L562.0,1077.5" stroke="#555" stroke-width="1.1"/>
<path d="M558.5,1084.1 L563.7,1078.4" stroke="#555" stroke-width="1.1"/>
<path d="M560.3,1085.1 L565.5,1079.4" stroke="#555" stroke-width="1.1"/>
<ellipse cx="570.2" cy="1086.3" rx="5.0" ry="9.5" transform="rotate(28.8 570.2 1086.3)" fill="#333" stroke="#111" stroke-width="1.6"/>
<ellipse cx="573.7" cy="1088.2" rx="5.0" ry="8.5" transform="rotate(28.8 573.7 1088.2)" fill="#fff" stroke="#1c1c1c" stroke-width="1.6"/>
<path d="M371,1289 L371,1325 Q372,1337 385,1336 L404.7,1329.5 L444.6,1319.6 Q452,1318 460,1322 L529.4,1362 Q538,1366 545,1356 L571.8,1299.6 Q575,1290 575.5,1270 L575.5,1194" fill="none" stroke="#1c1c1c" stroke-width="11" stroke-linecap="butt" stroke-linejoin="round"/>
<path d="M371,1289 L371,1325 Q372,1337 385,1336 L404.7,1329.5 L444.6,1319.6 Q452,1318 460,1322 L529.4,1362 Q538,1366 545,1356 L571.8,1299.6 Q575,1290 575.5,1270 L575.5,1194" fill="none" stroke="#fff" stroke-width="7.8" stroke-linecap="butt" stroke-linejoin="round"/>
<path d="M396,1325 L410,1321 L414,1336 L400,1340 Z" fill="#fff" stroke="#1c1c1c" stroke-width="1.6"/>
<path d="M475,1333 L487,1338 L482,1351 L470,1346 Z" fill="#fff" stroke="#1c1c1c" stroke-width="1.6"/>
<path d="M365,1286 L377,1286 L377,1296 L365,1296 Z" fill="#fff" stroke="#1c1c1c" stroke-width="1.5"/>
<path d="M569,1195 L582,1195 L582,1204 L569,1204 Z" fill="#fff" stroke="#1c1c1c" stroke-width="1.5"/>
<ellipse cx="369.8" cy="1277.2" rx="11" ry="12" fill="#fff" stroke="#1c1c1c" stroke-width="1.8"/>
<ellipse cx="364" cy="1277.5" rx="4.5" ry="8" fill="#fff" stroke="#1c1c1c" stroke-width="2"/>
<ellipse cx="574.3" cy="1183.7" rx="11" ry="12" fill="#fff" stroke="#1c1c1c" stroke-width="1.8"/>
<ellipse cx="568.5" cy="1184" rx="4.5" ry="8" fill="#fff" stroke="#1c1c1c" stroke-width="2"/>
<ellipse cx="349.8" cy="1288.4" rx="8" ry="10" transform="rotate(-30 349.8 1288.4)" fill="#fff" stroke="#1c1c1c" stroke-width="2.2"/>
<ellipse cx="350.3" cy="1288.4" rx="4" ry="5" transform="rotate(-30 349.8 1288.4)" fill="#888" stroke="#222" stroke-width="1.1"/>
<ellipse cx="389.7" cy="1266" rx="8" ry="10" transform="rotate(-30 389.7 1266)" fill="#fff" stroke="#1c1c1c" stroke-width="2.2"/>
<ellipse cx="390.2" cy="1266" rx="4" ry="5" transform="rotate(-30 389.7 1266)" fill="#888" stroke="#222" stroke-width="1.1"/>
<ellipse cx="553" cy="1196.1" rx="8" ry="10" transform="rotate(-30 553 1196.1)" fill="#fff" stroke="#1c1c1c" stroke-width="2.2"/>
<ellipse cx="553.5" cy="1196.1" rx="4" ry="5" transform="rotate(-30 553 1196.1)" fill="#888" stroke="#222" stroke-width="1.1"/>
<ellipse cx="595.5" cy="1172.4" rx="8" ry="10" transform="rotate(-30 595.5 1172.4)" fill="#fff" stroke="#1c1c1c" stroke-width="2.2"/>
<ellipse cx="596.0" cy="1172.4" rx="4" ry="5" transform="rotate(-30 595.5 1172.4)" fill="#888" stroke="#222" stroke-width="1.1"/>
<path class="w" d="M311.1,1317.0 L341.1,1301.0 L336.9,1293.0 L306.9,1309.0 Z"/>
<path d="M326.1,1309.0 L323.6,1300.1" stroke="#333" stroke-width="1"/>
<path d="M329.1,1307.4 L326.6,1298.5" stroke="#333" stroke-width="1"/>
<path d="M332.1,1305.8 L329.6,1296.9" stroke="#333" stroke-width="1"/>
<path d="M335.1,1304.2 L332.6,1295.3" stroke="#333" stroke-width="1"/>
<path d="M338.1,1302.6 L335.6,1293.7" stroke="#333" stroke-width="1"/>
<ellipse cx="311.6" cy="1311.6" rx="5.2" ry="10.5" transform="rotate(-28.1 311.6 1311.6)" class="w"/>
<ellipse cx="309.0" cy="1313.0" rx="7.3" ry="10.5" transform="rotate(-28.1 309.0 1313.0)" class="w" style="stroke-width:1.6"/>
<path class="w" d="M514.4,1224.8 L544.4,1206.2 L539.6,1198.6 L509.6,1217.2 Z"/>
<path d="M529.4,1215.5 L526.3,1206.8" stroke="#333" stroke-width="1"/>
<path d="M532.4,1213.7 L529.3,1205.0" stroke="#333" stroke-width="1"/>
<path d="M535.4,1211.8 L532.3,1203.1" stroke="#333" stroke-width="1"/>
<path d="M538.4,1209.9 L535.3,1201.2" stroke="#333" stroke-width="1"/>
<path d="M541.4,1208.1 L538.3,1199.4" stroke="#333" stroke-width="1"/>
<ellipse cx="514.5" cy="1219.4" rx="5.2" ry="10.5" transform="rotate(-31.8 514.5 1219.4)" class="w"/>
<ellipse cx="512.0" cy="1221.0" rx="7.3" ry="10.5" transform="rotate(-31.8 512.0 1221.0)" class="w" style="stroke-width:1.6"/>
<ellipse cx="789" cy="1175" rx="7" ry="8" transform="rotate(-30 789 1175)" fill="#fff" stroke="#1c1c1c" stroke-width="2"/>
<ellipse cx="790" cy="1175" rx="2.5" ry="3" fill="#555"/>
<path class="w" d="M798,1162 L798,1178 Q806,1184 815,1178 L815,1162 Z" style="stroke-width:1.6"/>
<ellipse cx="806.5" cy="1161" rx="8.5" ry="5" fill="#fff" stroke="#1c1c1c" stroke-width="1.6"/>
<path class="l" d="M792,1168 L798,1165 M793,1183 L804,1180"/>
<path d="M808.2,1189.0 L827.7,1198.2 L830.3,1192.8 L810.8,1183.6 Q807.7,1185.4 808.2,1189.0 Z" fill="#fff" stroke="#1c1c1c" stroke-width="1.9" stroke-linejoin="round"/>
<path d="M810.0,1189.9 L814.2,1185.2" stroke="#555" stroke-width="1.1"/>
<path d="M811.9,1190.7 L816.1,1186.1" stroke="#555" stroke-width="1.1"/>
<path d="M813.7,1191.6 L817.9,1186.9" stroke="#555" stroke-width="1.1"/>
<path d="M815.5,1192.5 L819.7,1187.8" stroke="#555" stroke-width="1.1"/>
<path d="M817.4,1193.3 L821.5,1188.7" stroke="#555" stroke-width="1.1"/>
<path d="M819.2,1194.2 L823.4,1189.5" stroke="#555" stroke-width="1.1"/>
<path d="M821.0,1195.1 L825.2,1190.4" stroke="#555" stroke-width="1.1"/>
<ellipse cx="827.6" cy="1194.9" rx="4.1" ry="7.9" transform="rotate(25.3 827.6 1194.9)" fill="#333" stroke="#111" stroke-width="1.6"/>
<ellipse cx="831.3" cy="1196.6" rx="4.1" ry="7.1" transform="rotate(25.3 831.3 1196.6)" fill="#fff" stroke="#1c1c1c" stroke-width="1.6"/>
<ellipse cx="863.8" cy="1193" rx="21" ry="28" transform="rotate(22 863.8 1193)" fill="none" stroke="#111" stroke-width="3.2"/>
<ellipse cx="866" cy="1189" rx="18" ry="25" transform="rotate(22 866 1189)" fill="none" stroke="#999" stroke-width="0.8"/>
<path class="w" d="M923.6,1160.8 L952.4,1163 Q960,1168 963.4,1180 L963.4,1195.1 L894.8,1274.9 L866,1274.9 L855,1262 L855,1248.3 L857.1,1239.4 Z" style="stroke-width:1.6"/>
<path class="l" d="M857.1,1239.4 L861.6,1243.9 L925.8,1164.1 L923.6,1160.8"/>
<path class="l" d="M861.6,1243.9 L863.8,1268.2 L866,1274.9"/>
<ellipse class="l" cx="949" cy="1177" rx="3" ry="4"/>
<ellipse class="l" cx="870.4" cy="1266" rx="3" ry="4"/>
<ellipse cx="928" cy="1235" rx="1.5" ry="1.5" fill="#111"/>
<path class="w" d="M922.4,1292.0 L901.1,1280.8 L896.9,1288.8 L918.2,1300.0 Z"/>
<path d="M911.7,1286.4 L905.8,1293.5" stroke="#333" stroke-width="1"/>
<path d="M909.6,1285.3 L903.7,1292.3" stroke="#333" stroke-width="1"/>
<path d="M907.5,1284.2 L901.5,1291.2" stroke="#333" stroke-width="1"/>
<path d="M905.4,1283.1 L899.4,1290.1" stroke="#333" stroke-width="1"/>
<path d="M903.2,1281.9 L897.3,1289.0" stroke="#333" stroke-width="1"/>
<ellipse cx="917.6" cy="1294.6" rx="3.5" ry="7.0" transform="rotate(-152.3 917.6 1294.6)" class="w"/>
<ellipse cx="920.3" cy="1296.0" rx="4.9" ry="7.0" transform="rotate(-152.3 920.3 1296.0)" class="w" style="stroke-width:1.6"/>
<ellipse cx="809" cy="905.4" rx="8" ry="11" transform="rotate(-20 809 905.4)" fill="#fff" stroke="#1c1c1c" stroke-width="2.2"/><ellipse cx="810" cy="905.4" rx="4" ry="5.5" fill="#999" stroke="#333" stroke-width="1"/>
<path class="w" d="M823,914 L833,909 L845,918 L846,926 L836,931 L824,922 Z" style="stroke-width:1.7"/>
<ellipse cx="840" cy="921" rx="6" ry="8" transform="rotate(-35 840 921)" fill="#fff" stroke="#1c1c1c" stroke-width="1.6"/>
<path d="M825.0,912.0 L829.0,924.0" stroke="#333" stroke-width="1.1"/>
<path d="M827.5,913.5 L831.5,925.5" stroke="#333" stroke-width="1.1"/>
<path d="M830.0,915.0 L834.0,927.0" stroke="#333" stroke-width="1.1"/>
<path d="M832.5,916.5 L836.5,928.5" stroke="#333" stroke-width="1.1"/>
<ellipse cx="804.7" cy="949" rx="8" ry="11" transform="rotate(-20 804.7 949)" fill="#fff" stroke="#1c1c1c" stroke-width="2.2"/><ellipse cx="805.5" cy="949" rx="4" ry="5.5" fill="#999" stroke="#333" stroke-width="1"/>
<path class="w" d="M818,957 L826,952 L846,966 L843,976 L834,978 L817,965 Z" style="stroke-width:1.7"/>
<ellipse cx="821" cy="959" rx="4" ry="6" transform="rotate(-35 821 959)" fill="#fff" stroke="#1c1c1c" stroke-width="1.6"/>
<path d="M828,956 L824,968" stroke="#333" stroke-width="1.1"/>
<path d="M831,958 L827,970" stroke="#333" stroke-width="1.1"/>
<path d="M834,960 L830,972" stroke="#333" stroke-width="1.1"/>
<path d="M837,962 L833,974" stroke="#333" stroke-width="1.1"/>
<path d="M840,964 L836,976" stroke="#333" stroke-width="1.1"/>
<path d="M852.7,978 L870,988 Q876,991 890,990 L908,989.7 Q915,990 922,994 L969,1018.8 Q982,1022 989.3,1017.3 L1001,1008.6" fill="none" stroke="#1c1c1c" stroke-width="10.5" stroke-linecap="butt" stroke-linejoin="round"/>
<path d="M852.7,978 L870,988 Q876,991 890,990 L908,989.7 Q915,990 922,994 L969,1018.8 Q982,1022 989.3,1017.3 L1001,1008.6" fill="none" stroke="#fff" stroke-width="7.3" stroke-linecap="butt" stroke-linejoin="round"/>
<path d="M846,968 L860,976 L856,988 L843,980 Z" fill="#fff" stroke="#1c1c1c" stroke-width="1.7"/>
<ellipse cx="1015.5" cy="1001.3" rx="8" ry="10" transform="rotate(-35 1015.5 1001.3)" fill="#fff" stroke="#1c1c1c" stroke-width="2.2"/>
<path d="M1008,996 L1020,1008 L1016,1012 L1006,1002 Z" fill="#333"/>
<path class="w" d="M1023,991 L1046,976 Q1052,976 1054,982 L1056,990 L1031,1005 Q1025,1004 1023,997 Z" style="stroke-width:1.7"/>
<ellipse cx="1051" cy="983" rx="4" ry="7" transform="rotate(-35 1051 983)" fill="none" stroke="#1c1c1c" stroke-width="1.5"/>
<ellipse cx="1062" cy="968" rx="8" ry="10" transform="rotate(-35 1062 968)" fill="#fff" stroke="#1c1c1c" stroke-width="2.2"/>
<path d="M1056,962 L1068,972 L1064,977 L1054,968 Z" fill="#333"/>
<path d="M1073.6,956.3 Q1078,946 1088,944.7 L1099.8,944.7 Q1110,948 1126,962" fill="none" stroke="#1c1c1c" stroke-width="10.5" stroke-linecap="butt" stroke-linejoin="round"/>
<path d="M1073.6,956.3 Q1078,946 1088,944.7 L1099.8,944.7 Q1110,948 1126,962" fill="none" stroke="#fff" stroke-width="7.3" stroke-linecap="butt" stroke-linejoin="round"/>
<path d="M1068,950 L1077,946 L1081,958 L1072,962 Z" fill="#fff" stroke="#1c1c1c" stroke-width="1.5"/>
<path d="M1128,899.6 L1128,903.6 Q1128,910.6 1139,910.6 Q1150,910.6 1150,903.6 L1150,899.6" class="w"/>
<ellipse cx="1139" cy="899.6" rx="11" ry="7" class="w"/>
<path d="M1133.0,909.6 L1133.0,932.6 Q1139,935.6 1145.0,932.6 L1145.0,909.6" class="w"/>
<path d="M1134.0,919.95 L1144.0,921.45" stroke="#333" stroke-width="1" fill="none"/>
<path d="M1134.0,922.25 L1144.0,923.75" stroke="#333" stroke-width="1" fill="none"/>
<path d="M1134.0,924.5500000000001 L1144.0,926.0500000000001" stroke="#333" stroke-width="1" fill="none"/>
<path d="M1134.0,926.85 L1144.0,928.35" stroke="#333" stroke-width="1" fill="none"/>
<path d="M1134.0,929.1500000000001 L1144.0,930.6500000000001" stroke="#333" stroke-width="1" fill="none"/>
<path d="M1134.0,931.45 L1144.0,932.95" stroke="#333" stroke-width="1" fill="none"/>
<path d="M1137,913.6 L1141,913.6 L1141,918.6 L1137,918.6" stroke="#333" stroke-width="1" fill="none"/>
<g><ellipse cx="1139" cy="943.2" rx="11" ry="7" fill="#fff" stroke="#1c1c1c" stroke-width="2"/><ellipse cx="1139" cy="943.2" rx="6.050000000000001" ry="3.5" fill="#888" stroke="#1c1c1c" stroke-width="1.2"/><path d="M1128,943.2 Q1128,952.2 1139,952.2 Q1150,952.2 1150,943.2" fill="none" stroke="#1c1c1c" stroke-width="1.6"/></g>
<ellipse cx="1139" cy="966.5" rx="13" ry="11" class="w" style="stroke-width:1.8"/>
<ellipse cx="1139" cy="963.5" rx="8.84" ry="4.95" fill="#fff" stroke="#1c1c1c" stroke-width="2.2"/>
<ellipse cx="1139" cy="963.5" rx="3.9" ry="2.42" fill="#666"/>
<g><ellipse cx="1139" cy="989.7" rx="11" ry="7.5" fill="#fff" stroke="#1c1c1c" stroke-width="2"/><ellipse cx="1139" cy="989.7" rx="6.050000000000001" ry="3.75" fill="#888" stroke="#1c1c1c" stroke-width="1.2"/><path d="M1128,989.7 Q1128,999.2 1139,999.2 Q1150,999.2 1150,989.7" fill="none" stroke="#1c1c1c" stroke-width="1.6"/></g></svg></body></html>
